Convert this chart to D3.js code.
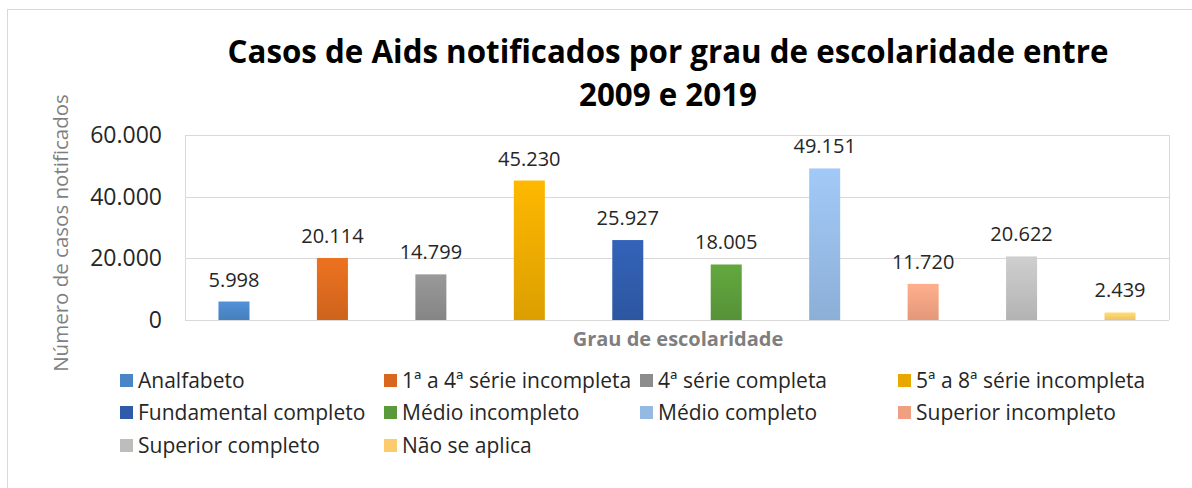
<!DOCTYPE html>
<html lang="pt">
<head>
<meta charset="UTF-8">
<title>Casos de Aids por grau de escolaridade</title>
<script src="https://cdn.jsdelivr.net/npm/d3@7"></script>
<style>
  body { margin: 0; background: #fff; }
  text { font-family: "Open Sans", Lato, sans-serif; }
</style>
</head>
<body>
<svg width="1192" height="488"></svg>
<script>
// dados
var categorias = ['Analfabeto', '1ª a 4ª série incompleta', '4ª série completa', '5ª a 8ª série incompleta',
  'Fundamental completo', 'Médio incompleto', 'Médio completo', 'Superior incompleto',
  'Superior completo', 'Não se aplica'];
var casos = [5998, 20114, 14799, 45230, 25927, 18005, 49151, 11720, 20622, 2439];
var yTicks = [0, 20000, 40000, 60000];
var cores = ['#4a86c6', '#d9681e', '#8c8c8c', '#e8a800', '#2f5ba9', '#5b9a3a', '#94b9e3', '#f0a080', '#bdbdbd', '#fccc6c'];

var svg = d3.select('svg');
var fmt = function (v) { return d3.format(',')(v).replace(/,/g, '.'); };

// moldura do grafico
svg.append('rect').attr('x', 7.5).attr('y', 9.5).attr('width', 1200).attr('height', 500)
  .attr('fill', 'none').attr('stroke', '#d9d9d9');

// titulo
svg.append('text').attr('x', 668).attr('y', 63).attr('text-anchor', 'middle')
  .attr('font-size', 31.3).attr('font-weight', 'bold').attr('fill', '#000')
  .text('Casos de Aids notificados por grau de escolaridade entre');
svg.append('text').attr('x', 668).attr('y', 106).attr('text-anchor', 'middle')
  .attr('font-size', 31.3).attr('font-weight', 'bold').attr('fill', '#000')
  .text('2009 e 2019');

var pLeft = 185, pRight = 1169, pTop = 135, pBottom = 320;

var x = d3.scaleBand().domain(d3.range(casos.length)).range([pLeft, pRight]).paddingInner(0.685).paddingOuter(0.34);
var y = d3.scaleLinear().domain([0, 60000]).range([pBottom, pTop]);

// grade
svg.append('g').selectAll('line').data(yTicks).enter().append('line')
  .attr('x1', pLeft).attr('x2', pRight)
  .attr('y1', function (d) { return Math.round(y(d)) + 0.5; })
  .attr('y2', function (d) { return Math.round(y(d)) + 0.5; })
  .attr('stroke', '#d9d9d9');
svg.append('line').attr('x1', pLeft + 0.5).attr('x2', pLeft + 0.5).attr('y1', pTop).attr('y2', pBottom)
  .attr('stroke', '#d9d9d9');
svg.append('line').attr('x1', pRight + 0.5).attr('x2', pRight + 0.5).attr('y1', pTop).attr('y2', pBottom)
  .attr('stroke', '#d9d9d9');

// eixo y
var axisY = d3.axisLeft(y).tickValues(yTicks).tickFormat(fmt).tickSize(0).tickPadding(23);
var gy = svg.append('g').attr('transform', 'translate(' + pLeft + ',0)').call(axisY);
gy.select('.domain').remove();
gy.selectAll('text').attr('font-size', 23).attr('fill', '#262626')
  .attr('font-family', '"Open Sans", Lato, sans-serif');

// gradientes das barras
var defs = svg.append('defs');
cores.forEach(function (c, i) {
  var g = defs.append('linearGradient').attr('id', 'grad' + i).attr('x1', 0).attr('x2', 0).attr('y1', 0).attr('y2', 1);
  g.append('stop').attr('offset', '0%').attr('stop-color', d3.color(c).brighter(0.25));
  g.append('stop').attr('offset', '100%').attr('stop-color', d3.color(c).darker(0.15));
});

// barras
svg.append('g').selectAll('rect').data(casos).enter().append('rect')
  .attr('x', function (d, i) { return x(i); })
  .attr('y', function (d) { return y(d); })
  .attr('width', x.bandwidth())
  .attr('height', function (d) { return y(0) - y(d); })
  .attr('fill', function (d, i) { return 'url(#grad' + i + ')'; });

// rotulos
svg.append('g').selectAll('text').data(casos).enter().append('text')
  .attr('x', function (d, i) { return x(i) + x.bandwidth() / 2; })
  .attr('y', function (d) { return y(d) - 15; })
  .attr('text-anchor', 'middle').attr('font-size', 20).attr('fill', '#262626')
  .text(fmt);

// titulos dos eixos
svg.append('text').attr('x', 678).attr('y', 346).attr('text-anchor', 'middle')
  .attr('font-size', 20).attr('font-weight', 'bold').attr('fill', '#7f7f7f')
  .text('Grau de escolaridade');
svg.append('text').attr('transform', 'translate(68,233) rotate(-90)').attr('text-anchor', 'middle')
  .attr('font-size', 20.5).attr('fill', '#7f7f7f')
  .text('Número de casos notificados');

// legenda
var colX = [120, 384, 640, 898], rowY = [381, 413, 446];
var leg = svg.append('g').selectAll('g').data(categorias).enter().append('g')
  .attr('transform', function (d, i) { return 'translate(' + colX[i % 4] + ',' + rowY[Math.floor(i / 4)] + ')'; });
leg.append('rect').attr('x', 0).attr('y', -7).attr('width', 13).attr('height', 13)
  .attr('fill', function (d, i) { return cores[i]; });
leg.append('text').attr('x', 18).attr('y', 7).attr('font-size', 21).attr('fill', '#262626')
  .text(function (d) { return d; });
</script>
</body>
</html>
